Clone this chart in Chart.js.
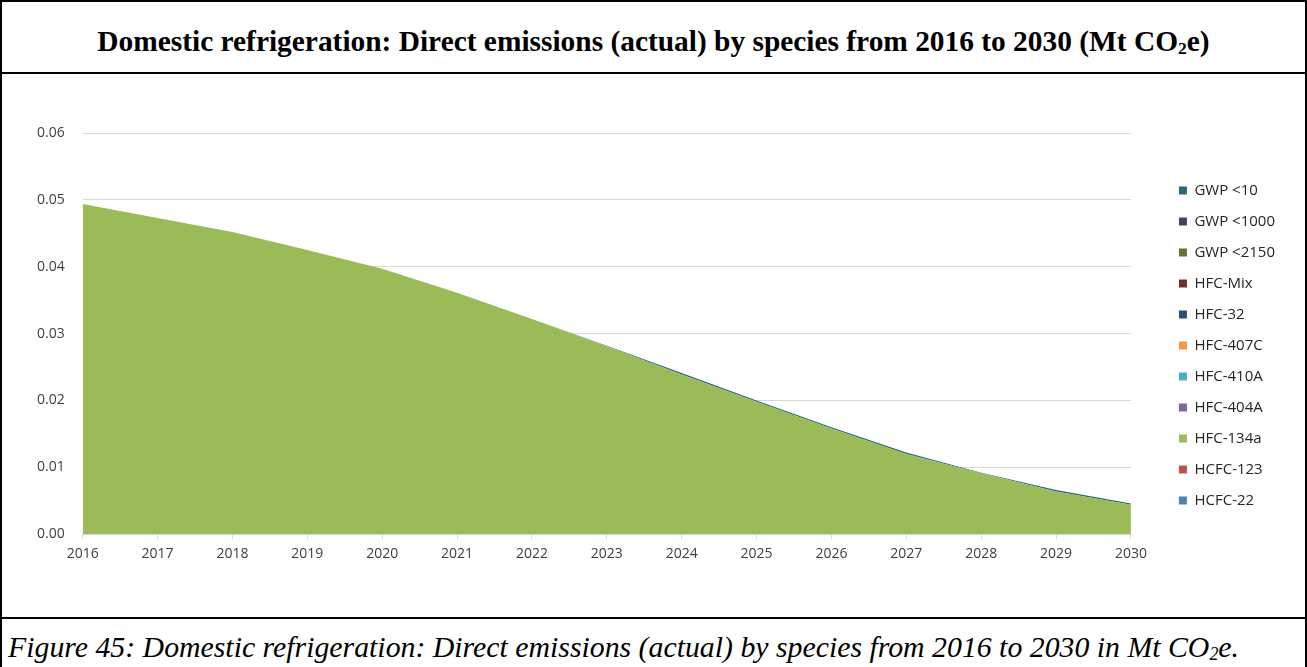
<!DOCTYPE html>
<html>
<head>
<meta charset="utf-8">
<script src="https://cdn.jsdelivr.net/npm/chart.js@4.4.1/dist/chart.umd.min.js"></script>
<style>
    html, body { margin: 0; padding: 0; background: #fff; }
    #frame {
        position: absolute; left: 0; top: 0; width: 1307px; height: 667px;
        box-sizing: border-box; border-left: 2px solid #000; border-right: 2px solid #000; border-top: 2px solid #000;
    }
    #title {
        position: absolute; left: 0; right: 0; top: 0; height: 70px;
        border-bottom: 2px solid #000;
        font-family: "Liberation Serif", "Times New Roman", serif; font-weight: bold; font-size: 29.4px;
        text-align: center; line-height: 78px;
    }
    #chart-box { position: absolute; left: 0; top: 72px; width: 1303px; height: 543px; }
    #caption {
        position: absolute; left: 0; right: 0; top: 615px; bottom: 0;
        border-top: 2px solid #000;
        font-family: "Liberation Serif", "Times New Roman", serif; font-style: italic; font-size: 29.8px;
        padding-left: 6px; line-height: 56px;
    }
    sub { font-size: 60%; vertical-align: -0.15em; }
</style>
</head>
<body>
<div id="frame">
    <div id="title">Domestic refrigeration: Direct emissions (actual) by species from 2016 to 2030 (Mt CO<sub>2</sub>e)</div>
    <div id="chart-box"><canvas id="chart-main"></canvas></div>
    <div id="caption">Figure 45: Domestic refrigeration: Direct emissions (actual) by species from 2016 to 2030 in Mt CO<sub>2</sub>e.</div>
</div>
<script>
const years = ['2016', '2017', '2018', '2019', '2020', '2021', '2022', '2023', '2024', '2025', '2026', '2027', '2028', '2029', '2030'];

// stacked from bottom (HCFC-22) to top (GWP <10)
const hcfc22   = [0, 0, 0, 0, 0, 0, 0, 0, 0, 0, 0, 0, 0, 0, 0];
const hcfc123  = [0, 0, 0, 0, 0, 0, 0, 0, 0, 0, 0, 0, 0, 0, 0];
const hfc134a  = [0.0494, 0.0473, 0.0452, 0.0425, 0.0397, 0.0361, 0.0322, 0.0281, 0.0239, 0.0198, 0.0158, 0.0120, 0.0091, 0.0064, 0.0044];
const hfc404a  = [0, 0, 0, 0, 0, 0, 0, 0, 0, 0, 0, 0, 0, 0, 0];
const hfc410a  = [0, 0, 0, 0, 0, 0, 0, 0, 0, 0, 0, 0, 0, 0, 0];
const hfc407c  = [0, 0, 0, 0, 0, 0, 0, 0, 0, 0, 0, 0, 0, 0, 0];
const hfc32    = [0, 0, 0, 0, 0, 0, 0, 0, 0, 0, 0, 0, 0, 0, 0];
const hfcMix   = [0, 0, 0, 0, 0, 0, 0, 0, 0, 0, 0, 0, 0, 0, 0];
const gwp2150  = [0, 0, 0, 0, 0, 0, 0, 0, 0, 0, 0, 0, 0, 0, 0];
const gwp1000  = [0, 0, 0, 0, 0, 0, 0, 0, 0, 0, 0, 0, 0, 0, 0];
const gwp10    = [0, 0, 0, 0, 0, 0, 0, 0.0001, 0.0002, 0.0002, 0.0002, 0.0002, 0.0001, 0.0002, 0.0002];

const series_names = ['HCFC-22', 'HCFC-123', 'HFC-134a', 'HFC-404A', 'HFC-410A', 'HFC-407C', 'HFC-32', 'HFC-Mix', 'GWP <2150', 'GWP <1000', 'GWP <10'];
const series_data = [hcfc22, hcfc123, hfc134a, hfc404a, hfc410a, hfc407c, hfc32, hfcMix, gwp2150, gwp1000, gwp10];
const series_colors = ['#4F81BD', '#C0504D', '#9BBB59', '#8064A2', '#4BACC6', '#F79646', '#2C4D75', '#772C2A', '#5F7530', '#4D3B62', '#276A7C'];
const y_ticks = [0, 0.01, 0.02, 0.03, 0.04, 0.05, 0.06];

const ctx = document.getElementById('chart-main');
var datasets = [];

series_names.forEach(function(name, i) {
    datasets.push({
        label: name,
        data: series_data[i],
        backgroundColor: series_colors[i],
        borderColor: series_colors[i],
        borderWidth: 0,
        pointRadius: 0,
        tension: 0,
        fill: i == 0 ? 'origin' : '-1'
    });
});

const tick_font = { family: '"Open Sans", "Noto Sans", sans-serif', size: 14 };
const legend_font = { family: '"Open Sans", "Noto Sans", sans-serif', size: 15 };

// push the legend a bit away from the plot, like the Excel original
const legend_gap = {
    id: 'legend_gap',
    afterLayout: function(chart) {
        let legend = chart.legend;
        legend.left = chart.chartArea.right + 32;
        legend.right = legend.left + legend.width;
        legend.top -= 5;
        legend.bottom -= 5;
    }
};

var chart = new Chart(ctx, {
    type: 'line',
    data: {
        labels: years,
        datasets: datasets
    },
    plugins: [legend_gap],
    options: {
        responsive: true,
        maintainAspectRatio: false,
        animation: false,
        layout: {
            padding: { top: 59, bottom: 49, left: 17, right: 52 }
        },
        plugins: {
            legend: {
                position: 'right',
                reverse: true,
                labels: {
                    boxWidth: 8,
                    boxHeight: 8,
                    padding: 16,
                    color: '#262626',
                    font: legend_font
                }
            },
            tooltip: { enabled: false }
        },
        scales: {
            x: {
                offset: false,
                grid: { drawOnChartArea: false, drawTicks: true, tickLength: 5, color: '#d9d9d9' },
                border: { color: '#d9d9d9' },
                ticks: { color: '#404040', font: tick_font, maxRotation: 0, padding: 6 }
            },
            y: {
                stacked: true,
                min: 0,
                max: 0.06,
                afterBuildTicks: function(scale) {
                    scale.ticks = y_ticks.map(function(v) { return { value: v }; });
                },
                grid: { color: '#d9d9d9', drawTicks: false },
                border: { display: false },
                ticks: {
                    color: '#404040',
                    font: tick_font,
                    padding: 18,
                    callback: function(value) { return value.toFixed(2); }
                }
            }
        }
    }
});
</script>
</body>
</html>
